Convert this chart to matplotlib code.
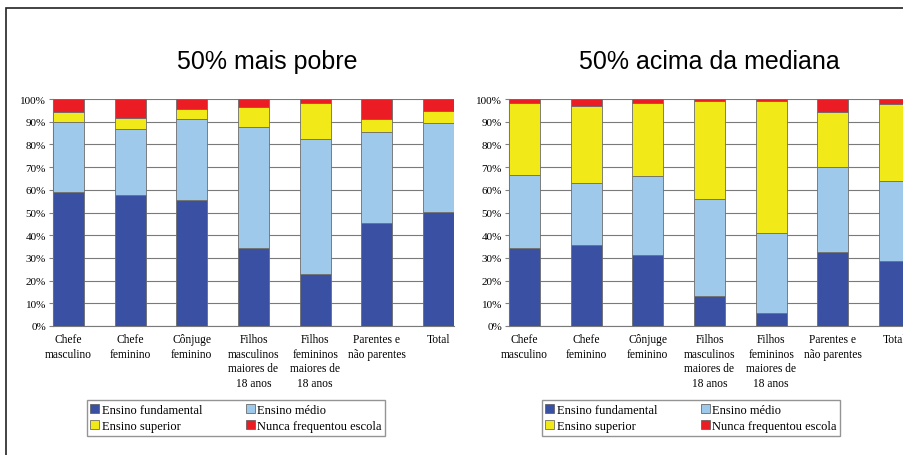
import matplotlib.pyplot as plt
import numpy as np
from matplotlib.patches import Patch, Rectangle

categories = ['Chefe\nmasculino', 'Chefe\nfeminino', 'Cônjuge\nfeminino',
              'Filhos\nmasculinos\nmaiores de\n18 anos',
              'Filhos\nfemininos\nmaiores de\n18 anos',
              'Parentes e\nnão parentes', 'Total']
series_names = ['Ensino fundamental', 'Ensino médio', 'Ensino superior', 'Nunca frequentou escola']

# 50% mais pobre
pobre_fund = [58.9, 57.9, 55.7, 34.2, 22.9, 45.5, 50.4]
pobre_medio = [30.8, 28.9, 35.5, 53.3, 59.3, 39.8, 38.9]
pobre_sup = [4.7, 4.7, 4.2, 9.1, 16.2, 5.7, 5.4]
pobre_nunca = [5.6, 8.5, 4.6, 3.4, 1.6, 9.0, 5.3]

# 50% acima da mediana
acima_fund = [34.2, 35.8, 31.4, 13.2, 5.6, 32.7, 28.5]
acima_medio = [32.2, 27.3, 34.5, 42.6, 35.4, 37.2, 35.2]
acima_sup = [31.7, 34.0, 32.5, 43.2, 58.0, 24.5, 34.2]
acima_nunca = [1.9, 2.9, 1.6, 1.0, 1.0, 5.6, 2.1]

colors = ['#3a51a3', '#9fc9eb', '#f1ea18', '#ec1c24']
serif = ['Liberation Serif', 'DejaVu Serif']
sans = ['Liberation Sans', 'DejaVu Sans']

W, H = 904, 456
fig = plt.figure(figsize=(W / 100, H / 100), dpi=100)
fig.patch.set_facecolor('white')

# outer frame
fig.add_artist(Rectangle((6 / W, -0.1), 1.2, (456 - 9) / H + 0.1, transform=fig.transFigure,
                         fill=False, edgecolor='#222222', linewidth=1.2))


def draw_panel(left_px, title, title_x, series):
    ax = fig.add_axes([left_px / W, (H - 327) / H, 401 / W, 227 / H])
    x = np.arange(len(categories))
    bottom = np.zeros(len(categories))
    for vals, c in zip(series, colors):
        ax.bar(x, vals, 0.5, bottom=bottom, color=c, edgecolor='#6d6d6d', linewidth=0.6, zorder=3)
        bottom += np.array(vals)
    ax.set_xlim(-0.25, 6.25)
    ax.set_ylim(0, 100)
    ax.set_yticks(np.arange(0, 101, 10))
    ax.set_yticklabels([f'{v}%' for v in range(0, 101, 10)], fontfamily=serif, fontsize=8)
    ax.set_xticks(x)
    ax.set_xticklabels(categories, fontfamily=serif, fontsize=8.3, linespacing=1.3)
    ax.tick_params(axis='x', length=0, pad=5)
    ax.tick_params(axis='y', length=3, color='#808080', pad=2)
    ax.grid(axis='y', color='#7a7a7a', linewidth=0.8, zorder=0)
    for s in ['top', 'right']:
        ax.spines[s].set_visible(False)
    ax.spines['left'].set_color('#9a9a9a')
    ax.spines['bottom'].set_color('#7a7a7a')
    fig.text(title_x / W, (H - 62) / H, title, ha='center', va='center',
             fontsize=18, fontfamily=sans)
    return ax


draw_panel(53, '50% mais pobre', 267, [pobre_fund, pobre_medio, pobre_sup, pobre_nunca])
draw_panel(509, '50% acima da mediana', 709, [acima_fund, acima_medio, acima_sup, acima_nunca])

handles = [Patch(facecolor=c, edgecolor='#555555', linewidth=0.5) for c in colors]
order = [0, 2, 1, 3]
for cx in [236, 691]:
    fig.legend([handles[i] for i in order], [series_names[i] for i in order],
               loc='center', bbox_to_anchor=(cx / W, (H - 419) / H), ncol=2,
               prop={'family': serif, 'size': 9}, frameon=True, fancybox=False,
               edgecolor='#7a7a7a', handlelength=0.7, handleheight=0.7,
               handletextpad=0.2, columnspacing=3.5, borderpad=0.3, labelspacing=0.35)

fig.savefig('out.png', dpi=100)
